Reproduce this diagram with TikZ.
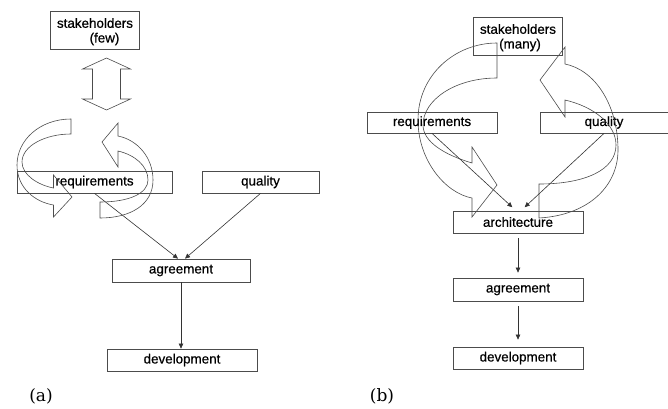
\documentclass[tikz,border=0pt]{standalone}
\usepackage{fontspec}
\setmainfont{Liberation Sans}
\newfontfamily\boxfont[FakeBold=0.6]{Liberation Sans}
\newfontfamily\lblfont{DejaVu Serif}
\usetikzlibrary{arrows.meta}
\begin{document}
\begin{tikzpicture}[x=1pt,y=-1pt,
  box/.style={draw=black!70, line width=0.75pt, inner sep=0pt, font=\boxfont\fontsize{13.4}{15}\selectfont},
  txt/.style={inner sep=0pt, font=\boxfont\fontsize{13.4}{15}\selectfont},
  conn/.style={draw=black!80, line width=0.6pt, -{Triangle[length=5pt,width=4.5pt]}},
  curv/.style={draw=black!70, line width=0.6pt, line join=miter},
  lbl/.style={inner sep=0pt, font=\lblfont\fontsize{17}{20}\selectfont}
]
\useasboundingbox (0,0) rectangle (668,408);

% ---------- panel (a) ----------
\node[box, minimum width=89pt, minimum height=38pt] (stA) at (94.5,30) {};
\node[txt] (stAt1) at (95,23) {stakeholders};
\node[txt] (stAt2) at (104.5,39) {(few)};
\node[box, minimum width=155pt, minimum height=22pt] (reqA) at (94.5,182) {requirements};
\node[box, minimum width=117pt, minimum height=22pt] (qualA) at (260.5,182) {quality};
\node[box, minimum width=138pt, minimum height=23pt] (agrA) at (181,270.5) {agreement};
\node[box, minimum width=150pt, minimum height=22pt] (devA) at (182,360) {development};
\node[lbl] (labA) at (41,396) {(a)};

\draw[conn] (reqA.south) -- ([xshift=-3pt]agrA.north);
\draw[conn] (qualA.south) -- ([xshift=4pt]agrA.north);
\draw[conn] (agrA.south) -- (agrA.south |- devA.north);

% double block arrow
\draw[curv] (106.5,58) -- (130.5,69) -- (120.5,69) -- (120.5,99) -- (130.5,99) -- (106.5,110)
  -- (82.5,99) -- (92.5,99) -- (92.5,69) -- (82.5,69) -- cycle;

% curved block arrows (a)
\draw[curv] (71,119) .. controls (40,119) and (17,140) .. (17,165)
  .. controls (17,188) and (35,202) .. (53.5,205) -- (53.5,217) -- (72,197) -- (53.5,175) -- (53.5,188)
  .. controls (38,185) and (22,175) .. (22,162) .. controls (22,146) and (45,134) .. (71,134) -- cycle;
\draw[curv] (100,218) .. controls (130,218) and (153,205) .. (153,180)
  .. controls (153,158) and (138,140) .. (118,136) -- (118,123) -- (102,142) -- (118,167) -- (118,151)
  .. controls (135,155) and (148,166) .. (148,180) .. controls (148,193) and (130,202) .. (100,202) -- cycle;

% ---------- panel (b) ----------
\node[box, minimum width=89pt, minimum height=38pt] (stB) at (517.5,36) {};
\node[txt] (stBt1) at (518,29) {stakeholders};
\node[txt] (stBt2) at (520,45) {(many)};
\node[box, minimum width=130pt, minimum height=21pt] (reqB) at (432,122.5) {requirements};
\node[box, minimum width=128pt, minimum height=21pt] (qualB) at (604,122.5) {quality};
\node[box, minimum width=130pt, minimum height=22pt] (archB) at (518,222) {architecture};
\node[box, minimum width=130pt, minimum height=23pt] (agrB) at (518,289.5) {agreement};
\node[box, minimum width=130pt, minimum height=22pt] (devB) at (518,358) {development};
\node[lbl] (labB) at (382,396) {(b)};

\draw[conn, shorten >=5pt] (reqB.south) -- ([xshift=-2pt]archB.north);
\draw[conn, shorten >=5pt] (qualB.south) -- ([xshift=3pt]archB.north);
\draw[conn, shorten <=5pt, shorten >=5pt] (archB.south) -- (agrB.north);
\draw[conn, shorten <=5pt, shorten >=7pt] (agrB.south) -- (devB.north);

% curved block arrows (b)
\draw[curv] (497,43) .. controls (455,43) and (418,75) .. (418,120)
  .. controls (418,160) and (445,193) .. (472,198) -- (472,217) -- (497,185) -- (472,147) -- (472,163)
  .. controls (445,155) and (423,142) .. (423,125) .. controls (423,100) and (455,78) .. (497,78) -- cycle;
\draw[curv] (539,218) .. controls (590,215) and (618,185) .. (618,150)
  .. controls (618,105) and (595,70) .. (565,64) -- (565,47) -- (540,80) -- (565,117) -- (565,100)
  .. controls (595,107) and (616,125) .. (616,145) .. controls (616,170) and (585,184) .. (539,184) -- cycle;
\end{tikzpicture}
\end{document}
